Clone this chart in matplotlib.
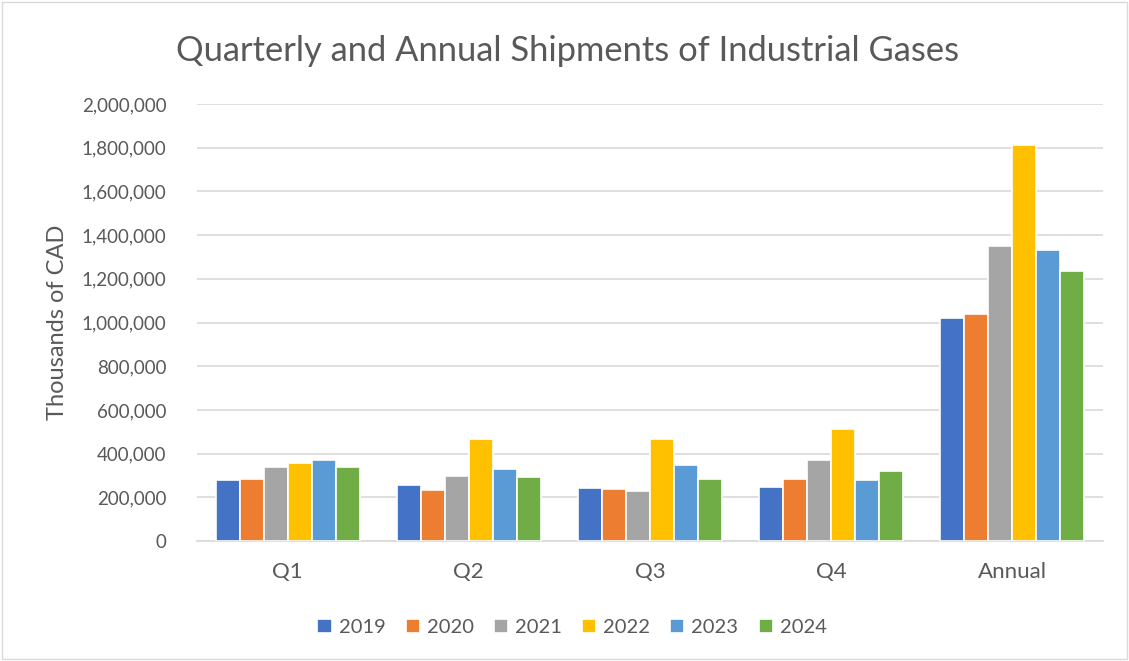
import numpy as np
import matplotlib.pyplot as plt
from matplotlib.patches import Rectangle
from matplotlib.ticker import FuncFormatter

plt.rcParams['font.family'] = ['Lato', 'DejaVu Sans']

categories = ['Q1', 'Q2', 'Q3', 'Q4', 'Annual']
years = ['2019', '2020', '2021', '2022', '2023', '2024']
v2019 = [279000, 255000, 241000, 247000, 1020000]
v2020 = [285000, 235000, 240000, 282000, 1041000]
v2021 = [339000, 299000, 229000, 372000, 1349000]
v2022 = [357000, 469000, 467000, 514000, 1812000]
v2023 = [372000, 331000, 346000, 281000, 1334000]
v2024 = [337000, 291000, 285000, 322000, 1236000]
series = [v2019, v2020, v2021, v2022, v2023, v2024]
colors = ['#4472c4', '#ed7d31', '#a5a5a5', '#ffc000', '#5b9bd5', '#70ad47']

text_col = '#595959'
grid_col = '#d9d9d9'

fig = plt.figure(figsize=(11.29, 6.61), dpi=100)
ax = fig.add_axes([197/1129, 1 - 541/661, (1103-197)/1129, (541-104)/661])

# chart border like the spreadsheet frame
fig.patches.append(Rectangle((2/1129, 2/661), 1125/1129, 657/661, transform=fig.transFigure,
                             fill=False, edgecolor='#d9d9d9', linewidth=1))

x = np.arange(len(categories))
step = 0.1325
for i, (vals, c) in enumerate(zip(series, colors)):
    ax.bar(x + (i - 2.5) * step, vals, width=step, color=c, edgecolor='white',
           linewidth=1.2, label=years[i], zorder=3)

ax.set_xlim(-0.5, len(categories) - 0.5)
ax.set_ylim(0, 2000000)
ax.set_yticks(np.arange(0, 2000001, 200000))
ax.yaxis.set_major_formatter(FuncFormatter(lambda v, p: f'{int(v):,}'))
ax.set_xticks(x)
ax.set_xticklabels(categories)
ax.tick_params(axis='both', length=0, labelcolor=text_col)
ax.tick_params(axis='y', labelsize=13.5, pad=22)
ax.tick_params(axis='x', labelsize=16, pad=15)
ax.grid(axis='y', color=grid_col, linewidth=1.2, zorder=0)
for s in ['top', 'right', 'left']:
    ax.spines[s].set_visible(False)
ax.spines['bottom'].set_color(grid_col)
ax.spines['bottom'].set_linewidth(1.2)

ax.set_ylabel('Thousands of CAD', fontsize=17, color=text_col, labelpad=10)
fig.text(568/1129, 1 - 51/661, 'Quarterly and Annual Shipments of Industrial Gases',
         ha='center', va='center', fontsize=24.8, color=text_col)

ax.legend(loc='center', bbox_to_anchor=(0.414, -0.198), ncol=6, frameon=False,
          fontsize=14.5, labelcolor=text_col, handlelength=0.7, handleheight=0.7,
          handletextpad=0.35, columnspacing=1.0)

plt.savefig('out.png', dpi=100)
